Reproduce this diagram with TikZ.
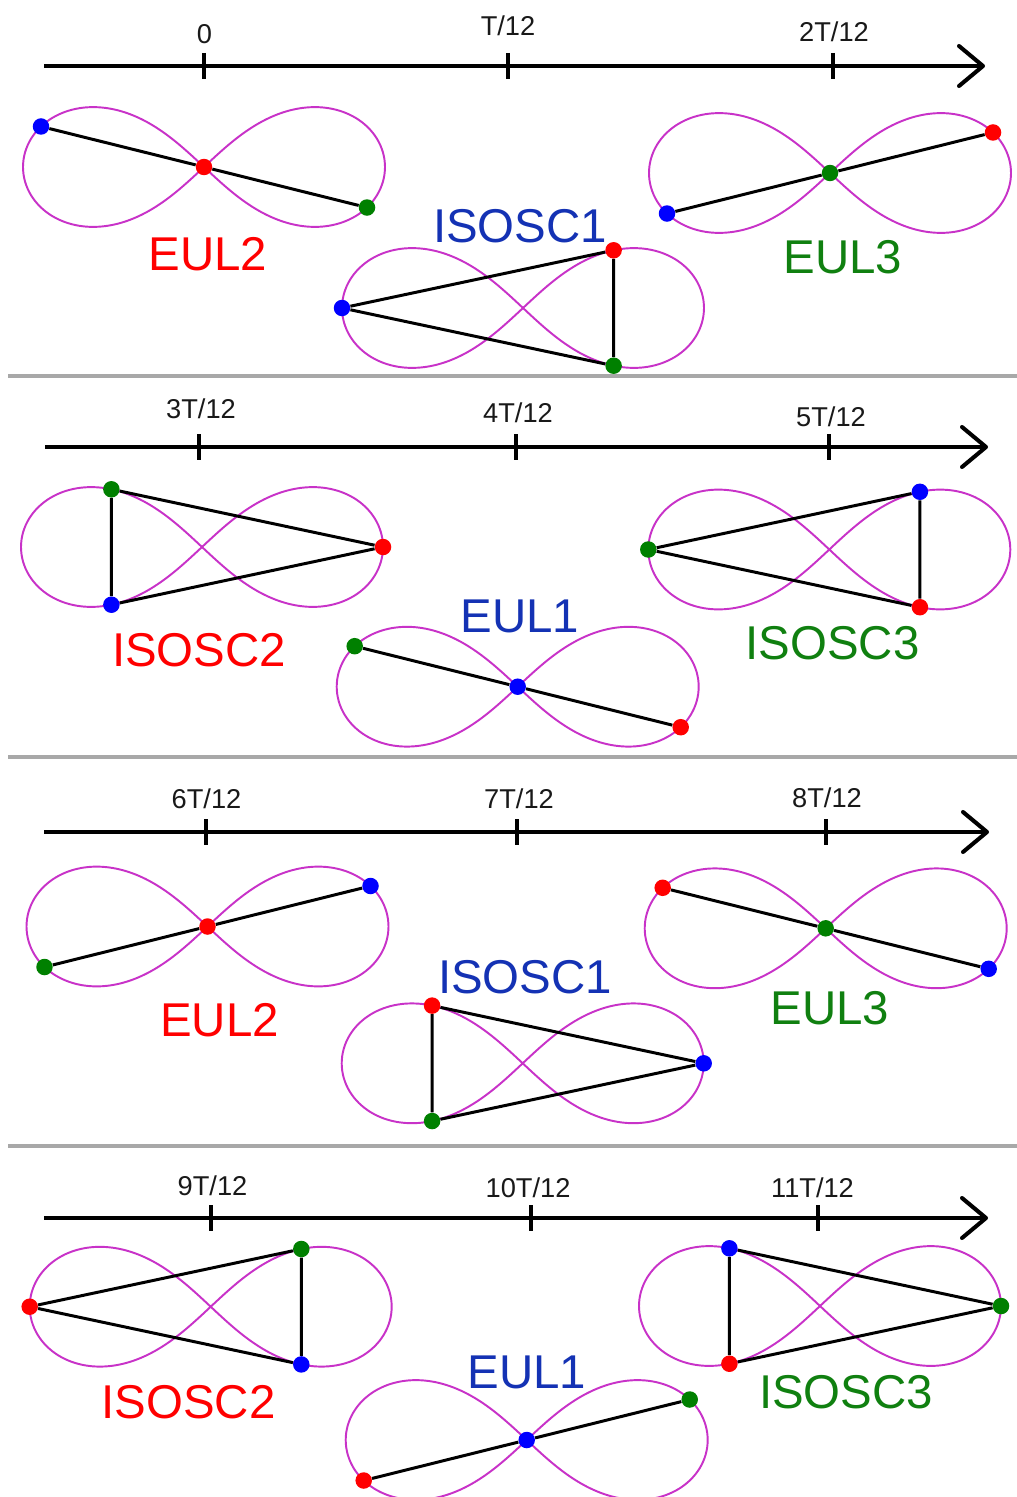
\documentclass[tikz,border=0pt]{standalone}
\usepackage{fontspec}
\setmainfont{Liberation Sans}
\definecolor{orbitmag}{RGB}{200,50,200}
\definecolor{bodyred}{RGB}{255,0,0}
\definecolor{bodyblue}{RGB}{0,0,255}
\definecolor{bodygreen}{RGB}{0,128,0}
\definecolor{namered}{RGB}{255,0,0}
\definecolor{nameblue}{RGB}{20,50,180}
\definecolor{namegreen}{RGB}{16,128,16}
\definecolor{divgray}{RGB}{168,168,168}
\definecolor{ticktext}{RGB}{25,25,25}

% the figure-eight orbit (a lemniscate) around the current origin, in pixel-like units
\newcommand\orbitcurve{\draw[orbitline] plot[domain=0:357.5, samples=144, smooth cycle, variable=\t]
  ({181*cos(\t)/(1+sin(\t)^2)},{169.4*sin(\t)*cos(\t)/(1+sin(\t)^2)});}
% a body of colour #1, named #2, sitting on the orbit at parameter #3
\newcommand\bodyat[3]{\node[body=#1] (#2) at
  ({181*cos(#3)/(1+sin(#3)^2)},{169.4*sin(#3)*cos(#3)/(1+sin(#3)^2)}) {};}

\tikzset{
  axisline/.style={line width=2.3pt, line cap=butt},
  arrowhead/.style={line width=2.3pt, line cap=round, line join=round},
  tickmark/.style={line width=2.3pt},
  seg/.style={line width=1.7pt, draw=black},
  orbitline/.style={draw=orbitmag, line width=1.1pt},
  body/.style={circle, fill=#1, draw=none, inner sep=0pt, minimum size=0.33cm},
  ticklabel/.style={font=\fontsize{15.5}{18}\selectfont, text=ticktext, inner sep=0pt},
  configname/.style={font=\fontsize{27}{30}\selectfont, text=#1, inner sep=0pt},
  divider/.style={line width=2.2pt, draw=divgray},
}

\begin{document}
\begin{tikzpicture}[x=0.02cm, y=-0.02cm]
\useasboundingbox[fill=white] (0,0) rectangle (1017,1497);

% ---------- dividers between the four quarters ----------
\coordinate (d1a) at (8,376);  \coordinate (d1b) at (1017,376);
\coordinate (d2a) at (8,757);  \coordinate (d2b) at (1017,757);
\coordinate (d3a) at (8,1146); \coordinate (d3b) at (1017,1146);
\draw[divider] (d1a) -- (d1b);
\draw[divider] (d2a) -- (d2b);
\draw[divider] (d3a) -- (d3b);

% ---------- time axes ----------
\foreach \nm/\yy/\xs/\xt in {ax1/66/44/983, ax2/447/45/986, ax3/832/44/987, ax4/1218/44/986}{
  \coordinate (\nm s) at (\xs,\yy);
  \coordinate (\nm t) at (\xt,\yy);
  \coordinate (\nm u) at (\xt-24,\yy-20);
  \coordinate (\nm l) at (\xt-24,\yy+20);
  \draw[axisline] (\nm s) -- (\nm t);
  \draw[arrowhead] (\nm u) -- (\nm t) -- (\nm l);
}

% ticks: x, axis y, label x, label y, label
\foreach \tx/\ty/\lx/\ly/\lab [count=\i] in {
  204/66/204.5/34/{0}, 508/66/508/26/{T/12}, 833/66/834/31.5/{2T/12},
  199.3/447/201/409/{3T/12}, 516/447/518/413/{4T/12}, 829/447/831/416.5/{5T/12},
  206/832/206.5/798.5/{6T/12}, 517/832/519/799/{7T/12}, 826/832/827/798/{8T/12},
  211/1218/212.5/1185.5/{9T/12}, 531/1218/528/1188/{10T/12}, 817.7/1218/812.5/1188/{11T/12}}{
  \coordinate (tk\i a) at (\tx,\ty-13);
  \coordinate (tk\i b) at (\tx,\ty+13);
  \draw[tickmark] (tk\i a) -- (tk\i b);
  \node[ticklabel] (tl\i) at (\lx,\ly) {\lab};
}

% ================= first quarter: 0, T/12, 2T/12 =================
\begin{scope}[shift={(204,167)}]
  \orbitcurve
  \bodyat{bodyblue}{pAb}{164.6}
  \node[body=bodyred] (pAr) at (0,0) {};
  \bodyat{bodygreen}{pAg}{15.4}
  \draw[seg] (pAb) -- (pAr) -- (pAg);
\end{scope}
\node[configname=namered] (nA) at (208,254.5) {EUL2};

\begin{scope}[shift={(523,308)}]
  \orbitcurve
  \bodyat{bodyblue}{pBb}{180}
  \bodyat{bodyred}{pBr}{-42.9}
  \bodyat{bodygreen}{pBg}{42.9}
  \draw[seg] (pBb) -- (pBr) -- (pBg) -- (pBb);
\end{scope}
\node[configname=nameblue] (nB) at (520,226) {ISOSC1};

\begin{scope}[shift={(830,173)}]
  \orbitcurve
  \bodyat{bodyblue}{pCb}{195.4}
  \node[body=bodygreen] (pCg) at (0,0) {};
  \bodyat{bodyred}{pCr}{-15.4}
  \draw[seg] (pCb) -- (pCg) -- (pCr);
\end{scope}
\node[configname=namegreen] (nC) at (843,257.5) {EUL3};

% ================= second quarter: 3T/12, 4T/12, 5T/12 =================
\begin{scope}[shift={(202,547)}]
  \orbitcurve
  \bodyat{bodygreen}{pDg}{137.1}
  \bodyat{bodyblue}{pDb}{222.9}
  \bodyat{bodyred}{pDr}{0}
  \draw[seg] (pDg) -- (pDb) -- (pDr) -- (pDg);
\end{scope}
\node[configname=namered] (nD) at (199,650.5) {ISOSC2};

\begin{scope}[shift={(517.7,686.7)}]
  \orbitcurve
  \bodyat{bodygreen}{pEg}{164.6}
  \node[body=bodyblue] (pEb) at (0,0) {};
  \bodyat{bodyred}{pEr}{15.4}
  \draw[seg] (pEg) -- (pEb) -- (pEr);
\end{scope}
\node[configname=nameblue] (nE) at (520,616.5) {EUL1};

\begin{scope}[shift={(829.3,549.5)}]
  \orbitcurve
  \bodyat{bodygreen}{pFg}{180}
  \bodyat{bodyblue}{pFb}{-42.9}
  \bodyat{bodyred}{pFr}{42.9}
  \draw[seg] (pFg) -- (pFb) -- (pFr) -- (pFg);
\end{scope}
\node[configname=namegreen] (nF) at (832.5,643.5) {ISOSC3};

% ================= third quarter: 6T/12, 7T/12, 8T/12 =================
\begin{scope}[shift={(207.5,926.5)}]
  \orbitcurve
  \bodyat{bodygreen}{pGg}{195.4}
  \node[body=bodyred] (pGr) at (0,0) {};
  \bodyat{bodyblue}{pGb}{-15.4}
  \draw[seg] (pGg) -- (pGr) -- (pGb);
\end{scope}
\node[configname=namered] (nG) at (219.5,1020.5) {EUL2};

\begin{scope}[shift={(522.7,1063.3)}]
  \orbitcurve
  \bodyat{bodyred}{pHr}{137.1}
  \bodyat{bodygreen}{pHg}{222.9}
  \bodyat{bodyblue}{pHb}{0}
  \draw[seg] (pHr) -- (pHg) -- (pHb) -- (pHr);
\end{scope}
\node[configname=nameblue] (nH) at (525,977) {ISOSC1};

\begin{scope}[shift={(825.7,928.3)}]
  \orbitcurve
  \bodyat{bodyred}{pIr}{164.6}
  \node[body=bodygreen] (pIg) at (0,0) {};
  \bodyat{bodyblue}{pIb}{15.4}
  \draw[seg] (pIr) -- (pIg) -- (pIb);
\end{scope}
\node[configname=namegreen] (nI) at (830,1008) {EUL3};

% ================= fourth quarter: 9T/12, 10T/12, 11T/12 =================
\begin{scope}[shift={(210.7,1306.7)}]
  \orbitcurve
  \bodyat{bodyred}{pJr}{180}
  \bodyat{bodygreen}{pJg}{-42.9}
  \bodyat{bodyblue}{pJb}{42.9}
  \draw[seg] (pJr) -- (pJg) -- (pJb) -- (pJr);
\end{scope}
\node[configname=namered] (nJ) at (188.5,1402.5) {ISOSC2};

\begin{scope}[shift={(526.7,1440)}]
  \orbitcurve
  \bodyat{bodyred}{pKr}{195.4}
  \node[body=bodyblue] (pKb) at (0,0) {};
  \bodyat{bodygreen}{pKg}{-15.4}
  \draw[seg] (pKr) -- (pKb) -- (pKg);
\end{scope}
\node[configname=nameblue] (nK) at (527,1372) {EUL1};

\begin{scope}[shift={(820,1306)}]
  \orbitcurve
  \bodyat{bodyblue}{pLb}{137.1}
  \bodyat{bodyred}{pLr}{222.9}
  \bodyat{bodygreen}{pLg}{0}
  \draw[seg] (pLb) -- (pLr) -- (pLg) -- (pLb);
\end{scope}
\node[configname=namegreen] (nL) at (846,1392.5) {ISOSC3};

\end{tikzpicture}
\end{document}
